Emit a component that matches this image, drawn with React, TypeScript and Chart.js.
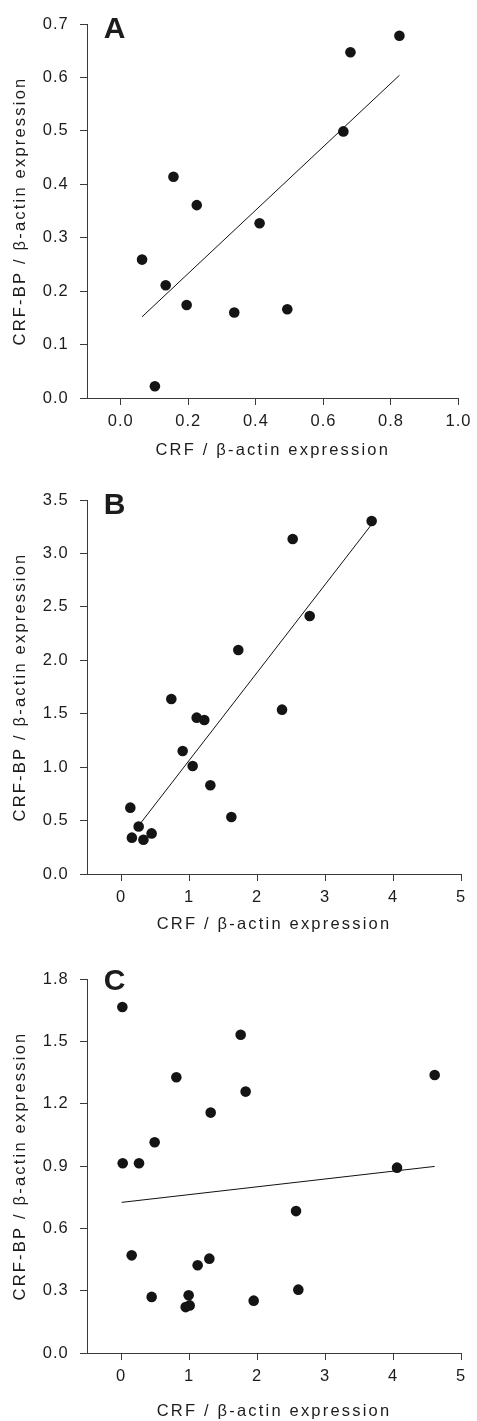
import React, { useEffect, useRef } from 'react';
import { Chart, registerables } from 'chart.js';

Chart.register(...registerables);

const FONT = '"Liberation Sans", Arial, Helvetica, sans-serif';
const TEXT = '#1c1c1c';
const AXIS = '#3a3a3a';
const DOT = '#141414';

const X_TITLE = 'CRF / β-actin expression';
const Y_TITLE = 'CRF-BP / β-actin expression';

// Panel A
const aCRF = [0.063, 0.101, 0.133, 0.156, 0.195, 0.225, 0.336, 0.411, 0.493, 0.659, 0.680, 0.825];
const aBP = [0.259, 0.022, 0.211, 0.414, 0.174, 0.361, 0.160, 0.327, 0.166, 0.499, 0.647, 0.678];
const aFitX = [0.063, 0.825];
const aFitY = [0.152, 0.604];
const aXTicks = [0, 0.2, 0.4, 0.6, 0.8, 1.0];
const aYTicks = [0, 0.1, 0.2, 0.3, 0.4, 0.5, 0.6, 0.7];

// Panel B
const bCRF = [0.137, 0.16, 0.26, 0.33, 0.45, 0.740, 0.907, 1.054, 1.113, 1.225, 1.314, 1.623, 1.725, 2.368, 2.525, 2.775, 3.686];
const bBP = [0.621, 0.34, 0.445, 0.32, 0.38, 1.637, 1.151, 1.011, 1.463, 1.441, 0.830, 0.533, 2.096, 1.538, 3.135, 2.414, 3.303];
const bFitX = [0.279, 3.686];
const bFitY = [0.468, 3.272];
const bXTicks = [0, 1, 2, 3, 4, 5];
const bYTicks = [0, 0.5, 1.0, 1.5, 2.0, 2.5, 3.0, 3.5];

// Panel C
const cCRF = [0.020, 0.025, 0.265, 0.157, 0.451, 0.495, 0.814, 0.951, 1.010, 0.995, 1.127, 1.299, 1.319, 1.760, 1.833, 1.951, 2.574, 2.608, 4.059, 4.613];
const cBP = [1.665, 0.913, 0.913, 0.470, 0.270, 1.014, 1.327, 0.221, 0.229, 0.278, 0.422, 0.454, 1.157, 1.532, 1.258, 0.252, 0.683, 0.305, 0.892, 1.338];
const cFitX = [0.010, 4.613];
const cFitY = [0.725, 0.898];
const cXTicks = [0, 1, 2, 3, 4, 5];
const cYTicks = [0, 0.3, 0.6, 0.9, 1.2, 1.5, 1.8];

type Panel = {
  letter: string;
  xs: number[];
  ys: number[];
  fitX: number[];
  fitY: number[];
  xTicks: number[];
  yTicks: number[];
  xMin: number;
  xMax: number;
  yMax: number;
  xDecimals: number;
  top: number;
  height: number;
  padTop: number;
  xAxisH: number;
  xTitlePad: number;
  letterY: number;
};

const panels: Panel[] = [
  { letter: 'A', xs: aCRF, ys: aBP, fitX: aFitX, fitY: aFitY, xTicks: aXTicks, yTicks: aYTicks,
    xMin: -0.1, xMax: 1.0, yMax: 0.7, xDecimals: 1,
    top: 0, height: 470, padTop: 24, xAxisH: 72, xTitlePad: 10, letterY: 30 },
  { letter: 'B', xs: bCRF, ys: bBP, fitX: bFitX, fitY: bFitY, xTicks: bXTicks, yTicks: bYTicks,
    xMin: -0.5, xMax: 5, yMax: 3.5, xDecimals: 0,
    top: 470, height: 470, padTop: 30, xAxisH: 66, xTitlePad: 6, letterY: 36 },
  { letter: 'C', xs: cCRF, ys: cBP, fitX: cFitX, fitY: cFitY, xTicks: cXTicks, yTicks: cYTicks,
    xMin: -0.5, xMax: 5, yMax: 1.8, xDecimals: 0,
    top: 940, height: 481, padTop: 39, xAxisH: 68, xTitlePad: 0, letterY: 42 },
];

function makeConfig(p: Panel): any {
  const points = p.xs.map((x, i) => ({ x, y: p.ys[i] }));
  const fit = p.fitX.map((x, i) => ({ x, y: p.fitY[i] }));
  const textPlugin = {
    id: 'textStyle',
    afterLayout(chart: any) {
      for (const id of ['x', 'y']) {
        const s = chart.scales[id];
        if (s && !s.__patchedTitle) {
          const orig = s.drawTitle;
          s.drawTitle = function (...args: any[]) {
            const c = this.ctx;
            const prev = c.letterSpacing;
            c.letterSpacing = '2.2px';
            orig.apply(this, args);
            c.letterSpacing = prev;
          };
          s.__patchedTitle = true;
        }
      }
    },
    beforeDraw(chart: any) {
      chart.ctx.letterSpacing = '1px';
    },
    afterDraw(chart: any) {
      const ctx = chart.ctx;
      ctx.save();
      ctx.letterSpacing = '0px';
      ctx.font = `bold 30px ${FONT}`;
      ctx.fillStyle = TEXT;
      ctx.textAlign = 'center';
      ctx.textBaseline = 'middle';
      ctx.fillText(p.letter, 114.5, p.letterY);
      ctx.restore();
    },
  };
  return {
    type: 'scatter',
    data: {
      datasets: [
        {
          data: fit,
          showLine: true,
          borderColor: '#111',
          borderWidth: 1,
          pointRadius: 0,
          fill: false,
          clip: false,
        },
        {
          data: points,
          showLine: false,
          backgroundColor: DOT,
          borderWidth: 0,
          pointRadius: 5.3,
          clip: false,
        },
      ],
    },
    options: {
      animation: false,
      responsive: false,
      devicePixelRatio: 1,
      events: [],
      layout: { padding: { left: 0, right: 16, top: p.padTop, bottom: 0 } },
      plugins: { legend: { display: false }, tooltip: { enabled: false } },
      scales: {
        x: {
          type: 'linear',
          min: p.xMin,
          max: p.xMax,
          afterBuildTicks: (s: any) => { s.ticks = p.xTicks.map((v) => ({ value: v })); },
          afterFit: (s: any) => { s.height = p.xAxisH; },
          grid: { display: true, drawOnChartArea: false, drawTicks: true, tickLength: 7, tickWidth: 1, tickColor: AXIS },
          border: { display: true, color: AXIS, width: 1 },
          ticks: {
            autoSkip: false, maxRotation: 0, padding: 7, color: TEXT,
            font: { family: FONT, size: 16.5 },
            callback: (v: any) => Number(v).toFixed(p.xDecimals),
          },
          title: {
            display: true, text: X_TITLE, color: TEXT,
            font: { family: FONT, size: 16.5 },
            padding: { top: 0, bottom: p.xTitlePad },
          },
        },
        y: {
          type: 'linear',
          min: 0,
          max: p.yMax,
          afterBuildTicks: (s: any) => { s.ticks = p.yTicks.map((v) => ({ value: v })); },
          afterFit: (s: any) => { s.width = 87; },
          grid: { display: true, drawOnChartArea: false, drawTicks: true, tickLength: 7, tickWidth: 1, tickColor: AXIS },
          border: { display: true, color: AXIS, width: 1 },
          ticks: {
            autoSkip: false, padding: 11.3, color: TEXT,
            font: { family: FONT, size: 16.5 },
            callback: (v: any) => Number(v).toFixed(1),
          },
          title: {
            display: true, text: Y_TITLE, color: TEXT,
            font: { family: FONT, size: 16.5 },
            padding: { top: 10.4, bottom: 0 },
          },
        },
      },
    },
    plugins: [textPlugin],
  };
}

function PanelChart({ panel }: { panel: Panel }) {
  const ref = useRef<HTMLCanvasElement | null>(null);
  useEffect(() => {
    if (!ref.current) return;
    const chart = new Chart(ref.current, makeConfig(panel));
    return () => chart.destroy();
  }, [panel]);
  return (
    <canvas
      ref={ref}
      width={477}
      height={panel.height}
      style={{ position: 'absolute', left: 0, top: panel.top, width: 477, height: panel.height, display: 'block' }}
    />
  );
}

export default function App() {
  return (
    <div style={{ position: 'absolute', left: 0, top: 0, width: 477, height: 1421, background: '#fff', overflow: 'hidden' }}>
      {panels.map((p) => (
        <PanelChart key={p.letter} panel={p} />
      ))}
    </div>
  );
}
